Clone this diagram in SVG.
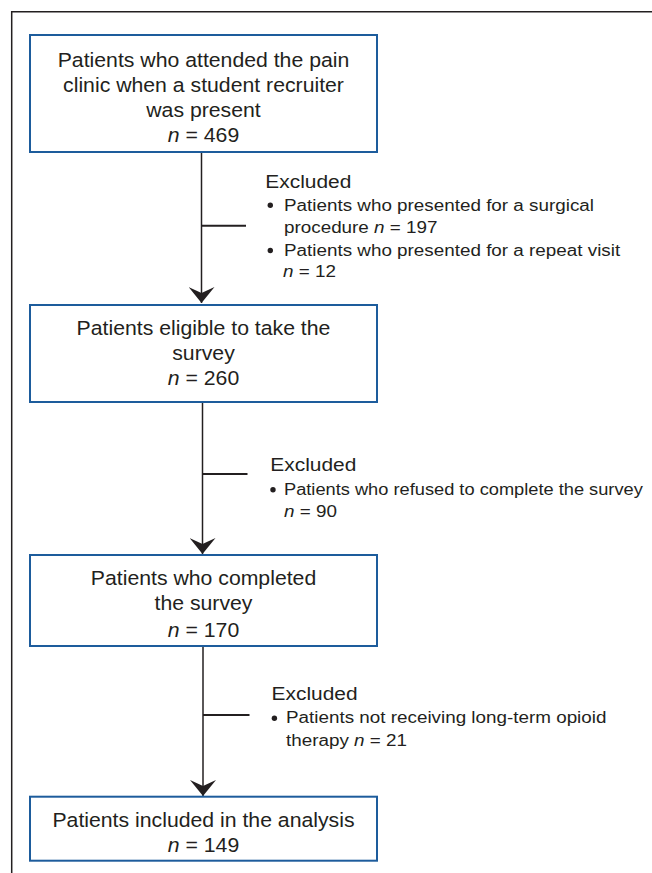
<svg xmlns="http://www.w3.org/2000/svg" width="652" height="873" viewBox="0 0 652 873">
<style>
  .frame { fill: none; stroke: #231f20; stroke-width: 1.5; }
  .box { fill: #ffffff; stroke: #1d5c9c; stroke-width: 2; }
  .bt { font-family: "Liberation Sans", Arial, sans-serif; font-size: 19.5px; fill: #231f20; text-anchor: middle; }
  .ex { font-family: "Liberation Sans", Arial, sans-serif; font-size: 17.3px; fill: #231f20; }
  .hd { font-family: "Liberation Sans", Arial, sans-serif; font-size: 19.2px; fill: #231f20; }
  .it { font-style: italic; }
  .shaft { stroke: #231f20; stroke-width: 1.5; fill: none; }
  .branch { stroke: #231f20; stroke-width: 2; fill: none; }
  .dot { fill: #231f20; }
</style>
<defs>
  <marker id="arr" viewBox="0 0 16 26" refX="16" refY="13" markerWidth="16" markerHeight="26" markerUnits="userSpaceOnUse" orient="auto">
    <path d="M0,0 L6,13 L0,26 L16,13 Z" fill="#231f20"/>
  </marker>
</defs>
<rect width="652" height="873" fill="#ffffff"/>
<path class="frame" d="M11.7,873 L11.7,11.7 L652,11.7"/>

<g id="connectors">
  <line class="shaft" x1="201.5" y1="152" x2="201.5" y2="303" marker-end="url(#arr)"/>
  <line class="branch" x1="201.5" y1="225.7" x2="246" y2="225.7"/>
  <line class="shaft" x1="202.5" y1="402" x2="202.5" y2="554" marker-end="url(#arr)"/>
  <line class="branch" x1="202.5" y1="474" x2="247.5" y2="474"/>
  <line class="shaft" x1="203" y1="646" x2="203" y2="796" marker-end="url(#arr)"/>
  <line class="branch" x1="203" y1="715" x2="249.5" y2="715"/>
</g>

<g id="node1">
  <rect class="box" x="30" y="35" width="347" height="117"/>
  <text class="bt" transform="translate(203.5,66.7) scale(1.09,1)">Patients who attended the pain</text>
  <text class="bt" transform="translate(203.5,91.7) scale(1.09,1)">clinic when a student recruiter</text>
  <text class="bt" transform="translate(203.5,116.7) scale(1.09,1)">was present</text>
  <text class="bt" transform="translate(203.5,141.7) scale(1.09,1)"><tspan class="it">n</tspan> = 469</text>
</g>

<g id="excluded1">
  <text class="hd" transform="translate(265.3,188.3) scale(1.09,1)">Excluded</text>
  <circle class="dot" cx="270.3" cy="205.2" r="2.7"/>
  <text class="ex" transform="translate(284,210.7) scale(1.09,1)">Patients who presented for a surgical</text>
  <text class="ex" transform="translate(284,233.3) scale(1.09,1)">procedure  <tspan class="it">n</tspan> = 197</text>
  <circle class="dot" cx="270.3" cy="250.5" r="2.7"/>
  <text class="ex" transform="translate(284,256) scale(1.09,1)">Patients who presented for a repeat visit</text>
  <text class="ex" transform="translate(283,277.3) scale(1.09,1)"><tspan class="it">n</tspan> = 12</text>
</g>

<g id="node2">
  <rect class="box" x="30" y="305" width="347" height="97"/>
  <text class="bt" transform="translate(203.5,335) scale(1.09,1)">Patients eligible to take the</text>
  <text class="bt" transform="translate(203.5,360) scale(1.09,1)">survey</text>
  <text class="bt" transform="translate(203.5,385) scale(1.09,1)"><tspan class="it">n</tspan> = 260</text>
</g>

<g id="excluded2">
  <text class="hd" transform="translate(270.3,470.7) scale(1.09,1)">Excluded</text>
  <circle class="dot" cx="273" cy="489.7" r="2.7"/>
  <text class="ex" transform="translate(284,495) scale(1.055,1)">Patients who refused to complete the survey</text>
  <text class="ex" transform="translate(284,516.7) scale(1.09,1)"><tspan class="it">n</tspan> = 90</text>
</g>

<g id="node3">
  <rect class="box" x="30" y="555" width="347" height="91"/>
  <text class="bt" transform="translate(203.5,585) scale(1.09,1)">Patients who completed</text>
  <text class="bt" transform="translate(203.5,610) scale(1.09,1)">the survey</text>
  <text class="bt" transform="translate(203.5,636.7) scale(1.09,1)"><tspan class="it">n</tspan> = 170</text>
</g>

<g id="excluded3">
  <text class="hd" transform="translate(271.5,700) scale(1.09,1)">Excluded</text>
  <circle class="dot" cx="274.4" cy="718.2" r="2.7"/>
  <text class="ex" transform="translate(286,723.3) scale(1.09,1)">Patients not receiving long-term opioid</text>
  <text class="ex" transform="translate(286,746) scale(1.09,1)">therapy  <tspan class="it">n</tspan> = 21</text>
</g>

<g id="node4">
  <rect class="box" x="30" y="796.7" width="347" height="64"/>
  <text class="bt" transform="translate(203.5,826.7) scale(1.09,1)">Patients included in the analysis</text>
  <text class="bt" transform="translate(203.5,851.7) scale(1.09,1)"><tspan class="it">n</tspan> = 149</text>
</g>
</svg>
